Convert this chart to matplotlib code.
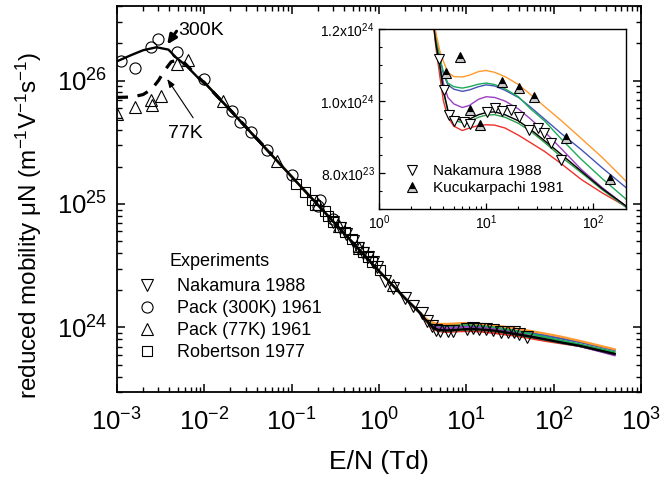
import numpy as np
import matplotlib.pyplot as plt
from matplotlib.ticker import LogLocator, NullFormatter, FixedLocator

plt.rcParams['font.family'] = ['Liberation Sans', 'DejaVu Sans']
plt.rcParams['mathtext.fontset'] = 'custom'
plt.rcParams['mathtext.rm'] = 'Liberation Sans'
plt.rcParams['mathtext.it'] = 'Liberation Sans:italic'
plt.rcParams['mathtext.default'] = 'regular'

# --- calculated reduced mobility (m^-1 V^-1 s^-1) ---
# common high-slope part shared by all calculated curves
E_desc = [0.01, 0.02, 0.05, 0.1, 0.2, 0.5, 1.0, 2.0, 3.0]
mu_desc = [9.7e25, 5.73e25, 2.84e25, 1.67e25, 9.84e24, 4.88e24, 2.87e24, 1.72e24, 1.30e24]

# low field part of the 300 K curve
E_300K = [1e-3, 1.5e-3, 2e-3, 2.85e-3, 3.9e-3, 4.8e-3, 6.3e-3, 8.9e-3]
mu_300K = [1.43e26, 1.62e26, 1.76e26, 1.86e26, 1.78e26, 1.53e26, 1.31e26, 1.02e26]

# 77 K curve (dashed)
E_77K = [1e-3, 1.5e-3, 2e-3, 2.5e-3, 3e-3, 3.5e-3, 4.2e-3, 5e-3, 6e-3, 8e-3, 0.012, 0.02, 0.035, 0.06]
mu_77K = [7.3e25, 7.35e25, 7.7e25, 8.5e25, 1.0e26, 1.2e26, 1.42e26, 1.46e26, 1.38e26, 1.12e26,
          8.4e25, 5.75e25, 3.75e25, 2.5e25]

# high field part, values in units of 1e24
E_tail = [3.4, 3.7, 4.0, 4.4, 5.0, 6.0, 7.0, 8.5, 10, 12, 15, 20, 26, 35, 50, 77, 120, 200, 500]
tail_orange = [1.19, 1.14, 1.11, 1.08, 1.068, 1.067, 1.072, 1.082, 1.085, 1.080, 1.068, 1.046,
               1.018, 0.985, 0.946, 0.896, 0.844, 0.778, 0.665]
tail_green = [1.18, 1.12, 1.08, 1.05, 1.040, 1.036, 1.040, 1.047, 1.050, 1.046, 1.034, 1.012,
              0.978, 0.945, 0.895, 0.838, 0.785, 0.728, 0.630]
tail_blue = [1.18, 1.12, 1.075, 1.045, 1.033, 1.027, 1.031, 1.040, 1.045, 1.042, 1.030, 1.010,
             0.983, 0.950, 0.910, 0.865, 0.815, 0.760, 0.655]
tail_purple = [1.17, 1.10, 1.05, 1.01, 0.992, 0.982, 0.988, 1.005, 1.012, 1.010, 1.000, 0.978,
               0.950, 0.915, 0.868, 0.810, 0.760, 0.708, 0.595]
tail_black = [1.16, 1.10, 1.03, 0.975, 0.952, 0.946, 0.950, 0.962, 0.968, 0.970, 0.962, 0.945,
              0.921, 0.890, 0.852, 0.805, 0.757, 0.709, 0.610]
tail_green2 = [1.16, 1.09, 1.025, 0.970, 0.946, 0.940, 0.943, 0.955, 0.961, 0.962, 0.955, 0.938,
               0.916, 0.885, 0.845, 0.801, 0.754, 0.705, 0.605]
tail_red = [1.15, 1.07, 1.00, 0.955, 0.930, 0.918, 0.925, 0.932, 0.934, 0.933, 0.925, 0.905,
            0.884, 0.860, 0.826, 0.782, 0.745, 0.707, 0.610]

# --- experiments ---
E_nak = [0.3, 0.36, 0.42, 0.5, 0.58, 0.66, 0.75, 0.85, 0.95, 1.17, 1.46, 1.99, 2.48, 3.09,
         3.6, 4.02, 4.48, 5.06, 6.2, 7.15, 10.1, 12.1, 14.2, 17.0, 20.3, 25.2, 30.2, 34.9, 40.3, 50.1]
mu_nak = [7.1e24, 6.4e24, 5.7e24, 5.0e24, 4.4e24, 4.0e24, 3.7e24, 3.4e24, 3.1e24, 2.36e24,
          2.08e24, 1.73e24, 1.50e24, 1.31e24, 1.118e24, 1.030e24, 0.961e24, 0.944e24, 0.941e24,
          0.937e24, 0.969e24, 0.982e24, 0.971e24, 0.976e24, 0.956e24, 0.920e24, 0.925e24,
          0.910e24, 0.882e24, 0.836e24]

E_pack300 = [1.13e-3, 1.61e-3, 2.45e-3, 2.93e-3, 4.91e-3, 9.95e-3, 0.0206, 0.0256, 0.034, 0.052,
             0.10, 0.20, 0.212, 0.3]
mu_pack300 = [1.43e26, 1.27e26, 1.86e26, 2.19e26, 1.71e26, 1.02e26, 5.71e25, 4.59e25, 3.81e25,
              2.72e25, 1.73e25, 9.6e24, 1.08e25, 7.5e24]

E_pack77 = [1.0e-3, 1.61e-3, 2.45e-3, 2.5e-3, 3.19e-3, 4.83e-3, 6.56e-3, 0.0165, 0.0675, 0.2,
            0.35, 0.6, 1.46]
mu_pack77 = [5.4e25, 6.12e25, 7.0e25, 6.3e25, 7.56e25, 1.35e26, 1.46e26, 6.8e25, 2.22e25, 1.0e25,
             6.6e24, 4.4e24, 2.2e24]

E_rob = [0.114, 0.142, 0.17, 0.185, 0.24, 0.264, 0.3, 0.36, 0.41, 0.49, 0.58, 0.66, 0.75, 0.83, 1.03]
mu_rob = [1.44e25, 1.26e25, 1.08e25, 9.9e24, 8.7e24, 8.0e24, 7.2e24, 6.5e24, 5.9e24, 5.2e24,
          4.5e24, 4.1e24, 3.7e24, 3.4e24, 2.9e24]

E_kuc = [4.26, 5.69, 7.15, 8.75, 14.2, 20.3, 27.7, 55.7, 142]
mu_kuc = [1.077e24, 1.123e24, 0.976e24, 0.934e24, 1.054e24, 1.036e24, 1.011e24, 0.898e24, 0.784e24]

curves = [
    (tail_red, '#F0302A'),
    (tail_green2, '#2E9E4A'),
    (tail_purple, '#9B3FC0'),
    (tail_blue, '#4355B5'),
    (tail_green, '#1DAA5A'),
    (tail_orange, '#FF9A2E'),
]


def full_curve(tail):
    E = np.concatenate([E_desc, E_tail])
    mu = np.concatenate([mu_desc, np.array(tail) * 1e24])
    return E, mu


fig = plt.figure(figsize=(6.6, 4.78), dpi=100)
ax = fig.add_axes([0.177, 0.180, 0.794, 0.807])

for tail, col in curves:
    E, mu = full_curve(tail)
    ax.plot(E, mu, color=col, lw=1.6)
E, mu = full_curve(tail_black)
ax.plot(np.concatenate([E_300K, E]), np.concatenate([mu_300K, mu]), color='k', lw=1.7)
ax.plot(E_77K, mu_77K, color='k', lw=2.3, dashes=(3.5, 3.0))

mk = dict(ls='none', mfc='none', mec='k', mew=0.8)
ax.plot(E_nak, mu_nak, marker='v', ms=8, label='Nakamura 1988', **mk)
ax.plot(E_pack300, mu_pack300, marker='o', ms=8, label='Pack (300K) 1961', **mk)
ax.plot(E_pack77, mu_pack77, marker='^', ms=8, label='Pack (77K) 1961', **mk)
ax.plot(E_rob, mu_rob, marker='s', ms=6.5, label='Robertson 1977', **mk)

ax.set_xscale('log')
ax.set_yscale('log')
ax.set_xlim(1e-3, 1e3)
ax.set_ylim(3e23, 4e26)
ax.xaxis.set_major_locator(LogLocator(base=10, numticks=10))
ax.xaxis.set_minor_locator(LogLocator(base=10, subs=np.arange(2, 10), numticks=20))
ax.xaxis.set_minor_formatter(NullFormatter())
ax.yaxis.set_minor_locator(LogLocator(base=10, subs=np.arange(2, 10), numticks=20))
ax.yaxis.set_minor_formatter(NullFormatter())
ax.tick_params(which='both', direction='in', top=True, right=True, labelsize=18.5)
ax.tick_params(axis='x', which='major', pad=12)
ax.tick_params(axis='y', which='major', pad=7)
ax.tick_params(which='major', length=6, width=1.1)
ax.tick_params(which='minor', length=3.5, width=1.0)
for s in ax.spines.values():
    s.set_linewidth(1.3)

ax.set_xlabel('E/N (Td)', fontsize=19, labelpad=10)
ax.set_ylabel('reduced mobility \u03bcN (m$^{-1}$V$^{-1}$s$^{-1}$)', fontsize=17.5)
ax.yaxis.set_label_coords(-0.139, 0.433)

# temperature labels with arrows
ax.text(5.03e-3, 2.54e26, '300K', fontsize=14, va='center', ha='left')
ax.annotate('', xy=(3.77e-3, 1.96e26), xytext=(4.83e-3, 2.51e26),
            arrowprops=dict(arrowstyle='-|>,head_length=0.55,head_width=0.25', lw=2.2,
                            color='k', shrinkA=0, shrinkB=0))
ax.text(3.87e-3, 3.72e25, '77K', fontsize=14, va='center', ha='left')
ax.annotate('', xy=(3.77e-3, 1.03e26), xytext=(7.48e-3, 4.99e25),
            arrowprops=dict(arrowstyle='-|>,head_length=0.5,head_width=0.18', lw=0.8,
                            color='k', shrinkA=0, shrinkB=0))

ax.text(0.101, 0.337, 'Experiments', transform=ax.transAxes, fontsize=13, va='center')
ax.legend(loc='upper left', bbox_to_anchor=(0.040, 0.295), frameon=False, fontsize=13,
          handlelength=1.0, handletextpad=1.15, labelspacing=0.28, borderpad=0,
          borderaxespad=0)

# inset: high field region on linear mobility scale
ins = fig.add_axes([0.574, 0.563, 0.374, 0.376])
for tail, col in curves:
    E, mu = full_curve(tail)
    ins.plot(E, mu, color=col, lw=1.0)
E, mu = full_curve(tail_black)
ins.plot(E, mu, color='k', lw=1.0)
ins.plot(E_nak, mu_nak, ls='none', marker='v', ms=7, mfc='white', mec='k', mew=0.8,
         label='Nakamura 1988')
ins.plot(E_kuc, mu_kuc, ls='none', marker='^', ms=7, fillstyle='top', mfc='k',
         mfcalt='0.8', mec='k', mew=0.8, label='Kucukarpachi 1981')
ins.set_xscale('log')
ins.set_xlim(1, 200)
ins.set_ylim(7e23, 1.2e24)
ins.xaxis.set_minor_locator(LogLocator(base=10, subs=np.arange(2, 10), numticks=20))
ins.xaxis.set_minor_formatter(NullFormatter())
ins.set_yticks([8e23, 1.0e24, 1.2e24], ['8.0x10$^{23}$', '1.0x10$^{24}$', '1.2x10$^{24}$'])
ins.yaxis.set_minor_locator(FixedLocator(np.arange(7.0e23, 1.2e24, 0.5e23)))
ins.tick_params(which='both', direction='in', labelsize=10, pad=3)
ins.tick_params(which='major', length=4, width=0.9)
ins.tick_params(which='minor', length=2.5, width=0.8)
for s in ins.spines.values():
    s.set_linewidth(1.0)
ins.legend(loc='upper left', bbox_to_anchor=(0.103, 0.25), frameon=False, fontsize=11,
           handlelength=1.0, handletextpad=0.85, labelspacing=0.2, borderpad=0,
           borderaxespad=0)

fig.savefig('out.png', dpi=100)
